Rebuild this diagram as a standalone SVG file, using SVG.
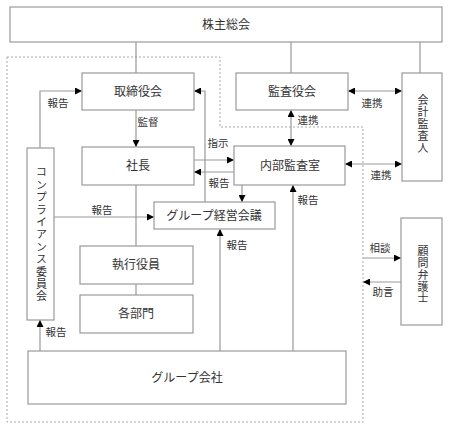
<svg xmlns="http://www.w3.org/2000/svg" width="449" height="427" viewBox="0 0 449 427">
<style>
.box{fill:#fff;stroke:#999;stroke-width:1.2}
.ln{fill:none;stroke:#999;stroke-width:1.2}
.dash{fill:none;stroke:#aaa;stroke-width:1;stroke-dasharray:2,2}
text{font-family:"Liberation Serif","Noto Sans CJK JP",serif;fill:#333}
.t{font-size:12px;text-anchor:middle;dominant-baseline:central}
.v{font-size:11px;text-anchor:middle;writing-mode:vertical-rl}
.l{font-size:10.5px;text-anchor:middle}
</style>
<defs>
<marker id="ah" viewBox="0 0 10 10" refX="10" refY="5" markerWidth="7" markerHeight="7" markerUnits="userSpaceOnUse" orient="auto-start-reverse">
<path d="M0,0L10,5L0,10Z" fill="#000"/>
</marker>
</defs>
<rect width="449" height="427" fill="#fff"/>
<path class="dash" d="M7,57H220V127H363V422H7Z"/>
<g id="connectors">
<path class="ln" d="M136,42V73M291,42V73M420,42V73"/>
<path class="ln" d="M40,148V91H82" marker-end="url(#ah)"/>
<path class="ln" d="M205,202V91H194" marker-end="url(#ah)"/>
<path class="ln" d="M136,110V147" marker-end="url(#ah)"/>
<path class="ln" d="M194,160H234" marker-end="url(#ah)"/>
<path class="ln" d="M234,172H194" marker-end="url(#ah)"/>
<path class="ln" d="M291,110V146" marker-start="url(#ah)" marker-end="url(#ah)"/>
<path class="ln" d="M348,91H402" marker-start="url(#ah)" marker-end="url(#ah)"/>
<path class="ln" d="M345,164H402" marker-start="url(#ah)" marker-end="url(#ah)"/>
<path class="ln" d="M242,185V202" marker-end="url(#ah)"/>
<path class="ln" d="M54,217H154" marker-end="url(#ah)"/>
<path class="ln" d="M136,185V246M136,284V295"/>
<path class="ln" d="M40,351V320" marker-end="url(#ah)"/>
<path class="ln" d="M220,351V229" marker-end="url(#ah)"/>
<path class="ln" d="M293,351V185" marker-end="url(#ah)"/>
<path class="ln" d="M363,258H401" marker-end="url(#ah)"/>
<path class="ln" d="M401,282H363" marker-end="url(#ah)"/>
<text class="l" x="58" y="107">報告</text>
<text class="l" x="148" y="126">監督</text>
<text class="l" x="308" y="124">連携</text>
<text class="l" x="372" y="107">連携</text>
<text class="l" x="218" y="147">指示</text>
<text class="l" x="219" y="187">報告</text>
<text class="l" x="381" y="179">連携</text>
<text class="l" x="102" y="214">報告</text>
<text class="l" x="237" y="249">報告</text>
<text class="l" x="308" y="204">報告</text>
<text class="l" x="56" y="336">報告</text>
<text class="l" x="380" y="252">相談</text>
<text class="l" x="383" y="296">助言</text>
</g>
<g id="kabunushi"><rect class="box" x="10" y="7" width="432" height="35"/><text class="t" x="226" y="25">株主総会</text></g>
<g id="torishimariyaku"><rect class="box" x="82" y="73" width="112" height="37"/><text class="t" x="138" y="92">取締役会</text></g>
<g id="kansayaku"><rect class="box" x="236" y="73" width="112" height="37"/><text class="t" x="292" y="92">監査役会</text></g>
<g id="kaikei"><rect class="box" x="402" y="73" width="40" height="108"/>
<text class="v" x="422" y="124" letter-spacing="1">会計監査人</text></g>
<g id="shacho"><rect class="box" x="82" y="147" width="112" height="38"/><text class="t" x="138" y="166">社長</text></g>
<g id="naibu"><rect class="box" x="234" y="146" width="111" height="39"/><text class="t" x="290" y="166">内部監査室</text></g>
<g id="compliance"><rect class="box" x="27" y="148" width="27" height="172"/>
<text class="v" x="40.5" y="235" letter-spacing="1.4">コンプライアンス委員会</text></g>
<g id="group-kaigi"><rect class="box" x="154" y="202" width="121" height="27"/><text class="t" x="214" y="216">グループ経営会議</text></g>
<g id="shikko"><rect class="box" x="80" y="246" width="113" height="38"/><text class="t" x="136" y="265">執行役員</text></g>
<g id="kakubumon"><rect class="box" x="80" y="295" width="113" height="38"/><text class="t" x="136" y="314">各部門</text></g>
<g id="komon"><rect class="box" x="401" y="218" width="41" height="107"/>
<text class="v" x="422" y="275" letter-spacing="0.8">顧問弁護士</text></g>
<g id="group-kaisha"><rect class="box" x="28" y="351" width="318" height="53"/><text class="t" x="187" y="378">グループ会社</text></g>
</svg>
